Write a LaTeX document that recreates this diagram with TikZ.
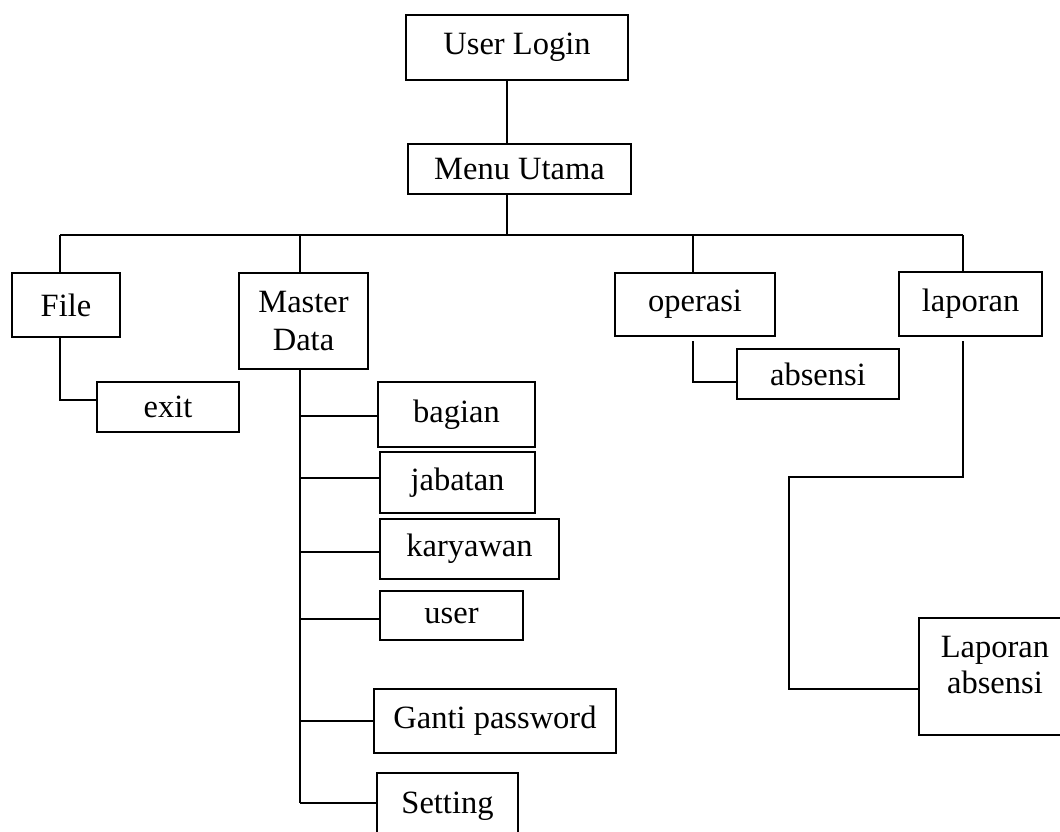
\documentclass[tikz,border=0pt]{standalone}
\usepackage{fontspec}
\setmainfont{Liberation Serif}
\begin{document}
\begin{tikzpicture}[x=1pt,y=-1pt,
  box/.style={draw, line width=1.6pt, inner sep=0pt, align=center,
    font=\fontsize{32.5}{38}\selectfont},
  label/.style={inner sep=0pt, align=center, font=\fontsize{32.5}{36}\selectfont},
  link/.style={line width=1.4pt}]
\useasboundingbox (0,0) rectangle (1060,831);
\clip (0,0) rectangle (1060,831);

% top of the menu tree
\node[box, minimum width=222, minimum height=65] (login) at (517,47.5) {User Login};
\node[box, minimum width=223, minimum height=50] (menu) at (519.5,169) {Menu Utama};

% main menu entries
\node[box, minimum width=108, minimum height=64] (file) at (66,305) {File};
\node[box, minimum width=129, minimum height=96] (master) at (303.5,321) {Master\\Data};
\node[box, minimum width=160, minimum height=63] (operasi) at (695,304.5) {operasi};
\node[box, minimum width=143, minimum height=64] (laporan) at (970.5,304) {laporan};

% sub entries
\node[box, minimum width=142, minimum height=50] (exit) at (168,407) {exit};
\node[box, minimum width=157, minimum height=65] (bagian) at (456.5,414.5) {bagian};
\node[box, minimum width=155, minimum height=61] (jabatan) at (457.5,482.5) {jabatan};
\node[box, minimum width=179, minimum height=60] (karyawan) at (469.5,549) {karyawan};
\node[box, minimum width=143, minimum height=49] (user) at (451.5,615.5) {user};
\node[box, minimum width=242, minimum height=64] (ganti) at (495,721) {Ganti password};
\node[box, minimum width=141, minimum height=67] (setting) at (447.5,806.5) {Setting};
\node[box, minimum width=162, minimum height=50] (absensi) at (818,374) {absensi};
\node[box, minimum width=152, minimum height=117] (lapabs) at (995,676.5) {};
\node[label] (lapabstext) at (995,665) {Laporan\\absensi};

% bus between the main menu and its entries
\coordinate (busL) at (60,235);
\coordinate (busR) at (963,235);
\coordinate (busM) at (507,235);
\draw[link] (login.south -| busM) -- (menu.north -| busM);
\draw[link] (menu.south -| busM) -- (busM);
\draw[link] (busL) -- (busR);
\draw[link] (busL) -- (busL |- file.north);
\draw[link] (300,235) -- (master.north -| 300,0);
\draw[link] (693,235) -- (operasi.north -| 693,0);
\draw[link] (busR) -- (busR |- laporan.north);

% File -> exit
\draw[link] (file.south -| busL) |- (exit.west |- 0,400);

% Master Data branches
\draw[link] (master.south -| 300,0) -- (300,803);
\draw[link] (300,416) -- (bagian.west |- 0,416);
\draw[link] (300,478) -- (jabatan.west |- 0,478);
\draw[link] (300,552) -- (karyawan.west |- 0,552);
\draw[link] (300,619) -- (user.west |- 0,619);
\draw[link] (300,721) -- (ganti.west |- 0,721);
\draw[link] (300,803) -- (setting.west |- 0,803);

% operasi -> absensi
\draw[link] (693,341) |- (absensi.west |- 0,382);

% laporan -> Laporan absensi
\draw[link] (963,341) -- (963,477) -- (789,477) |- (lapabs.west |- 0,689);
\end{tikzpicture}
\end{document}
